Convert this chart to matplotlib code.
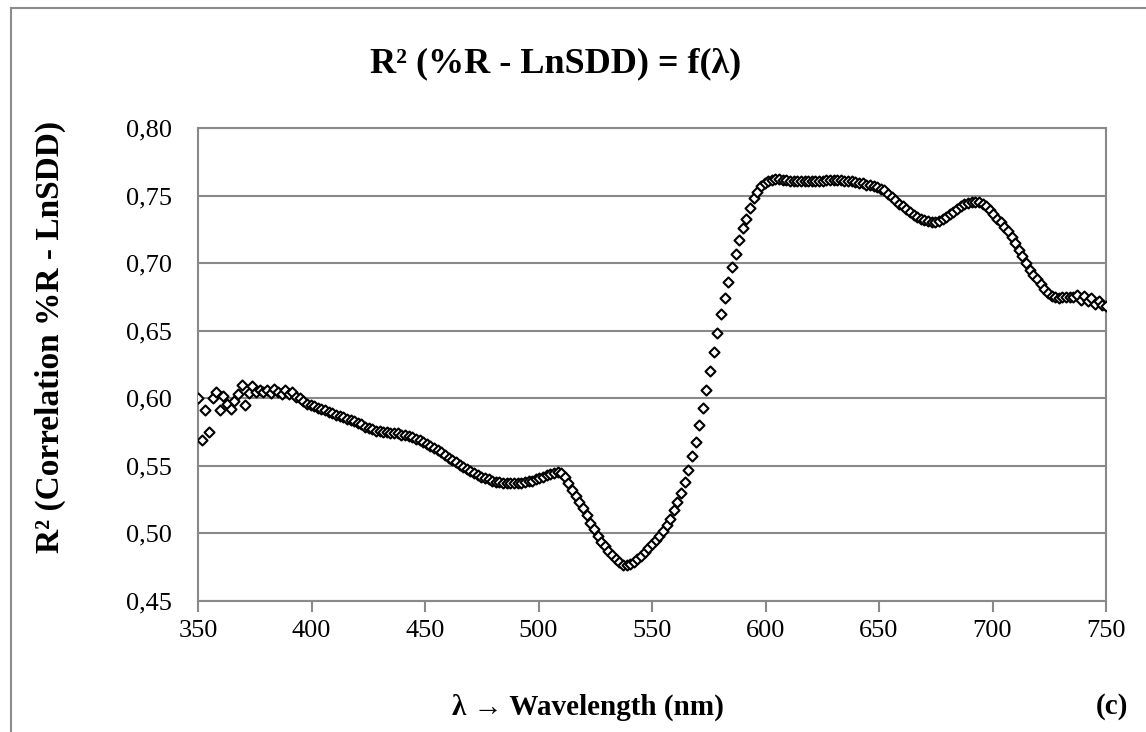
import matplotlib
matplotlib.use("Agg")
import matplotlib.pyplot as plt
from matplotlib.ticker import FuncFormatter
from matplotlib.lines import Line2D

plt.rcParams['font.family'] = ['Liberation Serif', 'DejaVu Serif']

# Wavelength sampling (nm): 350 -> 750, 251 samples
wavelength_start = 350.0
wavelength_step = 1.6

r2_values = [
    0.600, 0.569, 0.591, 0.575, 0.600, 0.605, 0.591, 0.602, 0.596, 0.592,
    0.598, 0.603, 0.610, 0.595, 0.604, 0.609, 0.605, 0.606, 0.605, 0.606,
    0.604, 0.607, 0.605, 0.603, 0.606, 0.603, 0.605, 0.601, 0.600, 0.598,
    0.596, 0.595, 0.594, 0.593, 0.592, 0.591, 0.590, 0.589, 0.588, 0.587,
    0.586, 0.585, 0.584, 0.583, 0.582, 0.581, 0.579, 0.578, 0.577, 0.576,
    0.576, 0.575, 0.575, 0.574, 0.574, 0.574, 0.573, 0.573, 0.572, 0.571,
    0.570, 0.569, 0.568, 0.566, 0.565, 0.563, 0.562, 0.560, 0.558, 0.556,
    0.554, 0.553, 0.551, 0.549, 0.548, 0.546, 0.545, 0.543, 0.542, 0.541,
    0.540, 0.539, 0.538, 0.538, 0.537, 0.537, 0.537, 0.537, 0.537, 0.537,
    0.538, 0.539, 0.539, 0.540, 0.541, 0.542, 0.543, 0.544, 0.545, 0.5455,
    0.545, 0.542, 0.537, 0.532, 0.528, 0.523, 0.519, 0.514, 0.508, 0.503,
    0.498, 0.494, 0.491, 0.487, 0.484, 0.481, 0.479, 0.477, 0.4765, 0.4775,
    0.479, 0.481, 0.483, 0.486, 0.489, 0.492, 0.495, 0.498, 0.502, 0.506,
    0.511, 0.517, 0.523, 0.530, 0.538, 0.547, 0.557, 0.568, 0.580, 0.593,
    0.606, 0.620, 0.634, 0.648, 0.662, 0.674, 0.686, 0.697, 0.707, 0.717,
    0.726, 0.733, 0.741, 0.748, 0.753, 0.757, 0.759, 0.761, 0.7615, 0.762,
    0.762, 0.7618, 0.7615, 0.761, 0.761, 0.7608, 0.7605, 0.7605, 0.7605, 0.7605,
    0.7607, 0.761, 0.761, 0.7612, 0.7613, 0.7613, 0.7613, 0.7612, 0.761, 0.7608,
    0.7605, 0.760, 0.7595, 0.759, 0.758, 0.7575, 0.757, 0.756, 0.755, 0.754,
    0.7515, 0.749, 0.7465, 0.744, 0.742, 0.740, 0.738, 0.7355, 0.734, 0.7328,
    0.732, 0.7312, 0.7308, 0.7307, 0.731, 0.7325, 0.734, 0.736, 0.738, 0.740,
    0.742, 0.7435, 0.7448, 0.7455, 0.7455, 0.745, 0.7435, 0.742, 0.739, 0.736,
    0.733, 0.7305, 0.727, 0.7235, 0.719, 0.715, 0.710, 0.705, 0.700, 0.695,
    0.691, 0.688, 0.6845, 0.681, 0.678, 0.676, 0.6748, 0.6745, 0.675, 0.6748,
    0.6752, 0.675, 0.6765, 0.673, 0.676, 0.672, 0.674, 0.670, 0.672, 0.669,
    0.668,
]
wavelengths = [wavelength_start + wavelength_step * i for i in range(len(r2_values))]

x_ticks = [350, 400, 450, 500, 550, 600, 650, 700, 750]
y_ticks = [0.45, 0.50, 0.55, 0.60, 0.65, 0.70, 0.75, 0.80]

title_text = "R² (%R - LnSDD) = f(λ)"
xlabel_text = "λ → Wavelength (nm)"
ylabel_text = "R² (Correlation %R - LnSDD)"
panel_text = "(c)"

W, H = 1146, 732
fig = plt.figure(figsize=(W / 100, H / 100), dpi=100)
ax = fig.add_axes([198 / W, 1 - 601 / H, (1106 - 198) / W, (601 - 128) / H])

grid_col = '#898989'
ax.scatter(wavelengths, r2_values, marker='D', s=26, facecolors='white',
           edgecolors='black', linewidths=1.5, zorder=3)

ax.set_xlim(350, 750)
ax.set_ylim(0.45, 0.80)
ax.set_xticks(x_ticks)
ax.set_yticks(y_ticks)
ax.yaxis.set_major_formatter(FuncFormatter(lambda v, p: f"{v:.2f}".replace('.', ',')))
ax.grid(axis='y', color=grid_col, linewidth=1.5, zorder=0)
for s in ax.spines.values():
    s.set_color(grid_col)
    s.set_linewidth(1.5)
ax.tick_params(axis='x', direction='out', length=8, width=1.5, color=grid_col,
               labelsize=19, pad=6)
ax.tick_params(axis='y', length=0, labelsize=19, pad=19)
for lab in ax.get_xticklabels() + ax.get_yticklabels():
    lab.set_color('black')

fig.text(556 / W, 1 - 64 / H, title_text, ha='center', va='center',
         fontsize=26, fontweight='bold')
fig.text(588 / W, 1 - 707 / H, xlabel_text, ha='center', va='center',
         fontsize=21, fontweight='bold')
fig.text(1112 / W, 1 - 707 / H, panel_text, ha='center', va='center',
         fontsize=21, fontweight='bold')
fig.text(50 / W, 1 - 337 / H, ylabel_text, ha='center', va='center',
         rotation=90, fontsize=24, fontweight='bold')

# outer chart-area border (top and left visible)
fig.add_artist(Line2D([11 / W, 1.0], [1 - 8 / H, 1 - 8 / H], color='#8c8c8c', linewidth=1.5))
fig.add_artist(Line2D([11 / W, 11 / W], [0.0, 1 - 8 / H], color='#8c8c8c', linewidth=1.5))

fig.savefig("out.png", dpi=100)
